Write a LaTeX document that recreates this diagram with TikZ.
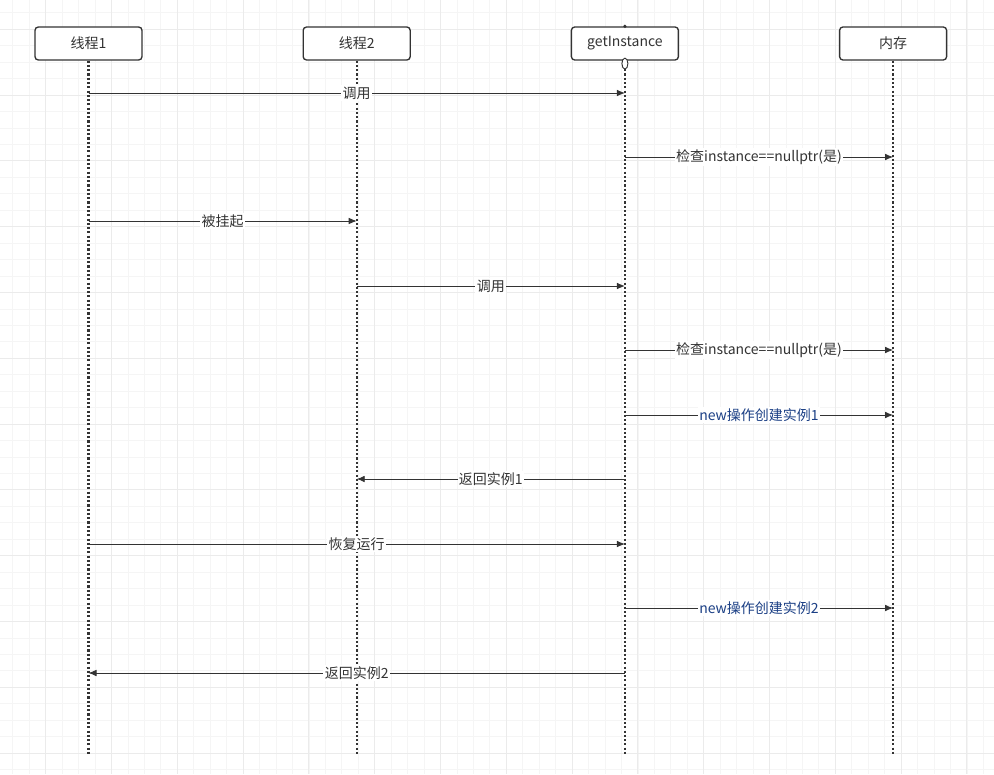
\documentclass[tikz,border=0pt]{standalone}
\usepackage{fontspec}
\setmainfont{Noto Sans CJK SC}
\usepackage{tikz}
\usetikzlibrary{arrows.meta, positioning}
\definecolor{inkgray}{HTML}{333333}
\definecolor{newblue}{HTML}{1B3F85}
\definecolor{gridminor}{HTML}{F5F5F5}
\definecolor{gridmajor}{HTML}{EBEBEB}

\begin{document}
\begin{tikzpicture}[x=0.75pt, y=-0.75pt, node distance=0pt and 119.9pt,
		head/.style={draw=inkgray, line width=1pt, rounded corners=2.5pt, fill=white, text=inkgray,
			minimum width=80.25pt, minimum height=24.75pt, font=\fontsize{10.5}{12}\selectfont},
		life/.style={dash pattern=on 1.6pt off 1.6pt, line width=1.6pt, inkgray},
		msg/.style={draw=inkgray, line width=0.65pt, -{Latex[length=6pt,width=5pt]}},
		lbl/.style={fill=white, inner sep=1pt, font=\fontsize{10.5}{12}\selectfont}]
			% background grid
			\fill[white] (0,0) rectangle (994,774);
			\useasboundingbox (0,0) rectangle (994,774);
			\foreach \i in {0,...,59}
				\draw[gridminor, line width=0.6pt] (12.8+16.45*\i,0) -- ++(0,774);
			\foreach \i in {0,...,46}
				\draw[gridminor, line width=0.6pt] (0,12.8+16.45*\i) -- ++(994,0);
			\foreach \i in {0,...,14}
				\draw[gridmajor, line width=0.8pt] (45.7+65.8*\i,0) -- ++(0,774);
			\foreach \i in {0,...,11}
				\draw[gridmajor, line width=0.8pt] (0,29.3+65.8*\i) -- ++(994,0);

			% lifeline heads
			\node[head] (t1) at (88.5,43.5) {线程1};
				\node[head, right =of t1] (t2) {线程2};
				\node[head, right =of t2] (gi) {getInstance};
				\node[head, right =of gi] (mem) {内存};
			\coordinate (bottom) at (0,755);
			\foreach \n in {t1,t2,gi,mem}
				\draw[life] (\n.south) -- (\n.south |- bottom);
			\fill[inkgray] (gi.north) circle (1.8);
			\draw[inkgray, fill=white, line width=0.7pt] ([yshift=-2.2pt]gi.south) ellipse (3 and 5.5);

			% messages
			\foreach \from/\to/\y/\txt/\col in {
					t1/gi/93/{调用}/inkgray,
					gi/mem/157/{检查instance==nullptr(是)}/inkgray,
					t1/t2/221/{被挂起}/inkgray,
					t2/gi/286/{调用}/inkgray,
					gi/mem/350/{检查instance==nullptr(是)}/inkgray,
					gi/mem/415/{new操作创建实例1}/newblue,
					gi/t2/479/{返回实例1}/inkgray,
					t1/gi/544/{恢复运行}/inkgray,
					gi/mem/608/{new操作创建实例2}/newblue,
					gi/t1/673/{返回实例2}/inkgray}
				\draw[msg] (\from |- 0,\y) -- node[lbl, text=\col] {\txt} (\to |- 0,\y);
		\end{tikzpicture}
\end{document}
